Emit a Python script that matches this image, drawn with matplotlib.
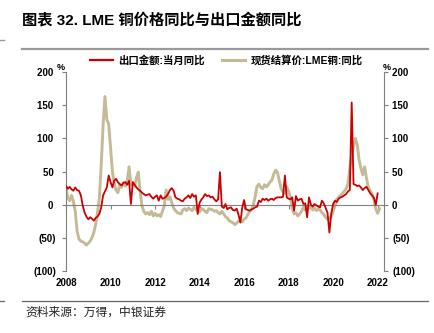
import matplotlib
matplotlib.use("Agg")
import matplotlib.pyplot as plt
from matplotlib.ticker import FuncFormatter
from matplotlib.lines import Line2D
import pandas as pd

plt.rcParams['font.family'] = ['Liberation Sans', 'Noto Sans CJK SC', 'DejaVu Sans']

# 出口金额:当月同比 (%)
export_yoy = [
    28, 24, 27, 23, 21, 26, 22, 21, 14, -1, -12, -18,      # 2008
    -22, -19, -21, -24, -20, -18, -14, -4, 14, 20, 26, 44,  # 2009
    34, 26, 36, 39, 34, 31, 29, 33, 34, 30, 36, 1,          # 2010
    34, 30, 26, 23, 21, 18, 16, 14, 15, 16, 12, 9,          # 2011
    12, 14, 6, 14, 9, 10, 12, 16, 22, 25, 21, 11,           # 2012
    9, 8, 6, 5, 9, 11, 14, 10, 16, 12, 14, -14,             # 2013
    3, 8, 11, 16, 13, 14, 11, 12, 8, 5, 8, 49,              # 2014
    -3, -5, 1, -7, -5, -4, -8, -9, -6, -15, -27, -5,        # 2015
    7, -7, -8, -9, -7, -6, -4, -3, 6, 4, 9, 7,              # 2016
    9, 6, 8, 9, 7, 10, 11, 11, 11, 12, 44, 11,              # 2017
    9, 8, 11, -9, 13, 6, 8, 9, 1, 2, -19, 11,               # 2018
    0, -3, 1, -1, -3, -4, 6, 2, -5, -12, -42, -14,          # 2019
    1, 6, 4, 9, 11, 12, 14, 16, 20, 22, 154, 31,            # 2020
    30, 28, 29, 26, 22, 25, 27, 22, 17, 14, 10, 0,          # 2021
    17,                                                     # 2022
]

# 现货结算价:LME铜:同比 (%)
lme_yoy = [
    25, 10, 6, 14, 5, -10, -40, -52, -55, -56, -58, -61,
    -58, -55, -50, -42, -30, -12, 10, 60, 120, 163, 128, 122,
    85, 50, 32, 22, 18, 30, 26, 33, 28, 36, 57, 30,
    33, 28, 40, 49, 20, -2, -10, -14, -12, -15, -10, -17,
    -13, -17, -15, -18, -10, -2, 22, 8, 12, 3, -5, -9,
    -12, -13, -14, -8, -6, -9, -5, -7, -9, -4, -7, -10,
    -11, -6, -7, -10, -12, -6, -7, -8, -10, -9, -12, -14,
    -10, -14, -18, -20, -24, -26, -27, -30, -28, -25, -24, -26,
    -22, -20, -15, -10, -8, 0, 12, 28, 31, 26, 24, 30,
    27, 30, 34, 37, 46, 52, 49, 36, 24, 19, 17, 27,
    20, 10, -6, -14, -12, -17, -14, -10, -4, -8, -2, -5,
    -4, -8, -5, -9, -7, -8, -12, -15, -19, -22, -20, -18,
    -10, -2, 8, 11, 14, 17, 20, 24, 32, 55, 75, 88,
    100, 90, 68, 55, 45, 57, 40, 26, 21, 16, 8, -6,
    -13, -6,
]

tick_years = [2008, 2010, 2012, 2014, 2016, 2018, 2020, 2022]
y_ticks = [-100, -50, 0, 50, 100, 150, 200]

red = '#CC0000'
beige = '#C5BA96'
grey = '#808080'

export_dates = pd.date_range('2008-01-01', periods=len(export_yoy), freq='MS')
lme_dates = pd.date_range('2008-01-01', periods=len(lme_yoy), freq='MS')

fig = plt.figure(figsize=(4.35, 3.33), dpi=100)
ax = fig.add_axes([66 / 435, 62 / 333, 318 / 435, 199 / 333])

ax.plot(lme_dates, lme_yoy, color=beige, lw=2.1, zorder=2)
ax.plot(export_dates, export_yoy, color=red, lw=1.3, zorder=3)

ax.set_xlim(pd.Timestamp('2008-01-01'), pd.Timestamp('2022-04-15'))
ax.set_ylim(-100, 200)


def paren(v, pos):
    return '(%d)' % abs(v) if v < 0 else '%d ' % v


ax.set_yticks(y_ticks)
ax.yaxis.set_major_formatter(FuncFormatter(paren))
ax.tick_params(axis='y', length=3, width=0.8, color=grey, pad=4, labelsize=7)
for lab in ax.get_yticklabels():
    lab.set_fontweight('bold')

# x axis sits on zero line, labels at the bottom
year_ticks = [pd.Timestamp('%d-01-01' % y) for y in tick_years]
ax.spines['bottom'].set_position(('data', 0))
ax.spines['bottom'].set_color(grey)
ax.set_xticks(year_ticks)
ax.set_xticklabels([])
ax.tick_params(axis='x', length=3, width=0.8, color=grey, direction='out')

sec = ax.secondary_xaxis(0.0)
sec.set_xticks(year_ticks)
sec.set_xticklabels([str(y) for y in tick_years], fontsize=7, fontweight='bold')
sec.tick_params(length=0, pad=5)
sec.spines['bottom'].set_visible(False)

ax.spines['top'].set_visible(False)
ax.spines['left'].set_color(grey)
ax.spines['right'].set_visible(False)

ax2 = ax.twinx()
ax2.set_ylim(-100, 200)
ax2.set_yticks(y_ticks)
ax2.yaxis.set_major_formatter(FuncFormatter(paren))
ax2.tick_params(axis='y', length=3, width=0.8, color=grey, pad=3, labelsize=7)
for lab in ax2.get_yticklabels():
    lab.set_fontweight('bold')
    lab.set_horizontalalignment('left')
for s in ['top', 'bottom', 'left']:
    ax2.spines[s].set_visible(False)
ax2.spines['right'].set_color(grey)

# % marks at axis tops
fig.text(61 / 435, 1 - 68 / 333, '%', fontsize=6.5, fontweight='bold', ha='center', va='center')
fig.text(387 / 435, 1 - 67 / 333, '%', fontsize=6.5, fontweight='bold', ha='center', va='center')

# legend
handles = [Line2D([], [], color=red, lw=1.6), Line2D([], [], color=beige, lw=2.2)]
fig.legend(handles, ['出口金额:当月同比', '现货结算价:LME铜:同比'],
           loc='center left', bbox_to_anchor=(90 / 435, 1 - 60 / 333), ncol=2,
           frameon=False, handlelength=2.2, handletextpad=0.5, columnspacing=1.7,
           borderaxespad=0, borderpad=0, prop={'size': 7.5, 'weight': 'bold'})

# title, rules and source
fig.text(22 / 435, 1 - 21 / 333, '图表 32. LME 铜价格同比与出口金额同比',
         fontsize=11, fontweight='bold', ha='left', va='center')
fig.add_artist(Line2D([22 / 435, 428 / 435], [1 - 49 / 333, 1 - 49 / 333], color='#999999', lw=1.6))
fig.add_artist(Line2D([0, 4 / 435], [1 - 40 / 333, 1 - 40 / 333], color='#999999', lw=1.0))
fig.add_artist(Line2D([22 / 435, 428 / 435], [1 - 301 / 333, 1 - 301 / 333], color='#666666', lw=0.9))
fig.add_artist(Line2D([0, 4 / 435], [1 - 301 / 333, 1 - 301 / 333], color='#666666', lw=0.9))
fig.text(25 / 435, 1 - 313 / 333, '资料来源：万得，中银证券', fontsize=8.5, style='italic',
         ha='left', va='center', color='#222222')

fig.savefig('out.png', dpi=100)
